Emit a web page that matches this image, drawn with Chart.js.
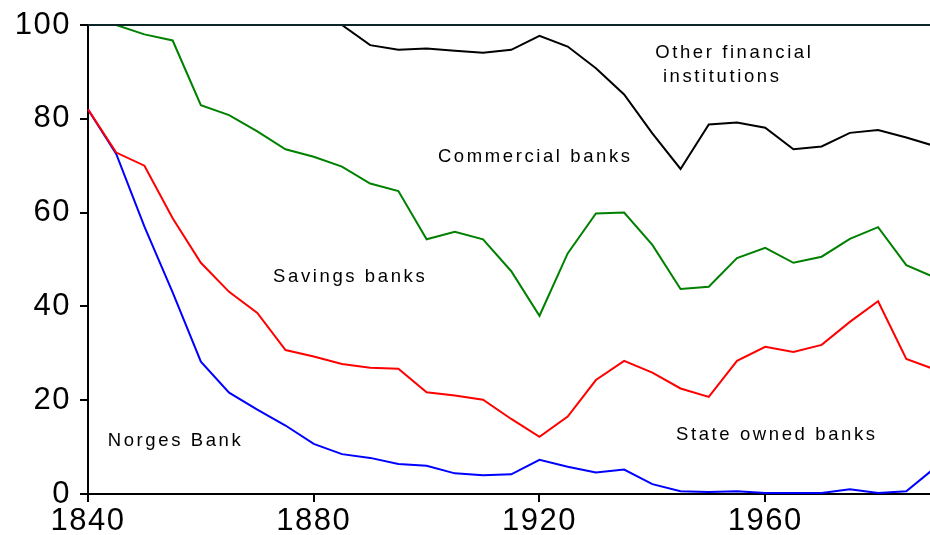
<!DOCTYPE html>
<html>
<head>
<meta charset="utf-8">
<script src="https://cdn.jsdelivr.net/npm/chart.js@4.4.1/dist/chart.umd.min.js"></script>
<style>
  html, body { margin: 0; padding: 0; background: #fff; }
  #wrap { width: 930px; height: 535px; }
</style>
</head>
<body>
<div id="wrap"><canvas id="shareChart"></canvas></div>
<script>
// years, every 5 years 1840-1990
const years = [1840,1845,1850,1855,1860,1865,1870,1875,1880,1885,1890,1895,1900,1905,1910,1915,
  1920,1925,1930,1935,1940,1945,1950,1955,1960,1965,1970,1975,1980,1985,1990];

// cumulative shares (percent)
const norgesBank = [82,72.5,57,43,28.2,21.6,18,14.6,10.7,8.5,7.7,6.4,6.0,4.4,4.0,4.2,
  7.3,5.8,4.6,5.2,2.1,0.6,0.4,0.6,0.2,0.2,0.2,1.0,0.2,0.6,5.5];
const stateOwned = [82,72.8,70,58.8,49.3,43.1,38.6,30.7,29.3,27.7,26.9,26.7,21.7,21.0,20.1,16,
  12.2,16.5,24.3,28.4,25.9,22.5,20.7,28.4,31.4,30.3,31.8,36.7,41.1,28.8,26.6];
const savingsBanks = [100,100,98,96.7,82.9,80.8,77.3,73.5,71.9,69.8,66.2,64.6,54.3,55.9,54.3,47.5,
  38.0,51.3,59.8,60.0,53.1,43.7,44.2,50.3,52.5,49.3,50.6,54.4,56.9,48.8,46.2];
const commercialBanks = [100,100,100,100,100,100,100,100,100,100,95.7,94.7,95.0,94.5,94.1,94.7,
  97.7,95.4,90.8,85.2,76.9,69.3,78.8,79.2,78.1,73.5,74.1,77.0,77.6,76.0,74.2];
const totalShare = years.map(() => 100);

const xTicks = [1840, 1880, 1920, 1960];

// text labels placed in data units
const notes = [
  { text: 'Other financial', x: 1940.5, y: 94.0 },
  { text: ' institutions', x: 1940.5, y: 88.9 },
  { text: 'Commercial banks', x: 1902.0, y: 71.9 },
  { text: 'Savings banks', x: 1872.8, y: 46.3 },
  { text: 'Norges Bank', x: 1843.5, y: 11.3 },
  { text: 'State owned banks', x: 1944.2, y: 12.6 }
];

function pts(values) {
  return years.map((yr, i) => ({ x: yr, y: values[i] }));
}

const tickFont = { family: 'Liberation Sans, Arial, sans-serif', size: 31 };

const notesPlugin = {
  id: 'notes',
  beforeDraw(chart) {
    chart.ctx.letterSpacing = '1.5px';
  },
  afterDatasetsDraw(chart) {
    const ctx = chart.ctx;
    const xs = chart.scales.x, ys = chart.scales.y;
    ctx.save();
    ctx.letterSpacing = '2.6px';
    ctx.font = '18.5px "Liberation Sans", Arial, sans-serif';
    ctx.fillStyle = '#000';
    ctx.textAlign = 'left';
    ctx.textBaseline = 'middle';
    notes.forEach(n => {
      ctx.fillText(n.text, xs.getPixelForValue(n.x), ys.getPixelForValue(n.y));
    });
    ctx.restore();
  },
  afterDraw(chart) {
    chart.ctx.letterSpacing = '0px';
  }
};

function lineSet(label, values, color) {
  return {
    label: label,
    data: pts(values),
    borderColor: color,
    borderWidth: 2,
    pointRadius: 0,
    tension: 0,
    fill: false,
    clip: false
  };
}

new Chart(document.getElementById('shareChart'), {
  type: 'line',
  data: {
    datasets: [
      lineSet('Total', totalShare, '#0b2626'),
      lineSet('Commercial banks', commercialBanks, '#000000'),
      lineSet('Savings banks', savingsBanks, '#008000'),
      lineSet('State owned banks', stateOwned, '#ff0000'),
      lineSet('Norges Bank', norgesBank, '#0000ff')
    ]
  },
  options: {
    responsive: true,
    maintainAspectRatio: false,
    animation: false,
    layout: { padding: { top: 25, right: 0, left: 0, bottom: 0 } },
    plugins: {
      legend: { display: false },
      tooltip: { enabled: false }
    },
    scales: {
      x: {
        type: 'linear',
        min: 1840,
        max: 1989.2,
        afterBuildTicks: (scale) => { scale.ticks = xTicks.map(v => ({ value: v })); },
        afterFit: (scale) => { scale.height = 41; scale.paddingLeft = 0; scale.paddingRight = 0; },
        grid: { drawOnChartArea: false, drawTicks: true, tickLength: 8, color: '#000', lineWidth: 2 },
        border: { display: true, color: '#000', width: 2 },
        ticks: { color: '#000', font: tickFont, padding: 1, maxRotation: 0,
          callback: (v) => String(v) }
      },
      y: {
        min: 0,
        max: 100,
        ticks: { stepSize: 20, color: '#000', font: tickFont, padding: 9 },
        afterFit: (scale) => { scale.width = 88; scale.paddingTop = 0; scale.paddingBottom = 0; },
        grid: { drawOnChartArea: false, drawTicks: true, tickLength: 8, color: '#000', lineWidth: 2 },
        border: { display: true, color: '#000', width: 2 }
      }
    }
  },
  plugins: [notesPlugin]
});
</script>
</body>
</html>
